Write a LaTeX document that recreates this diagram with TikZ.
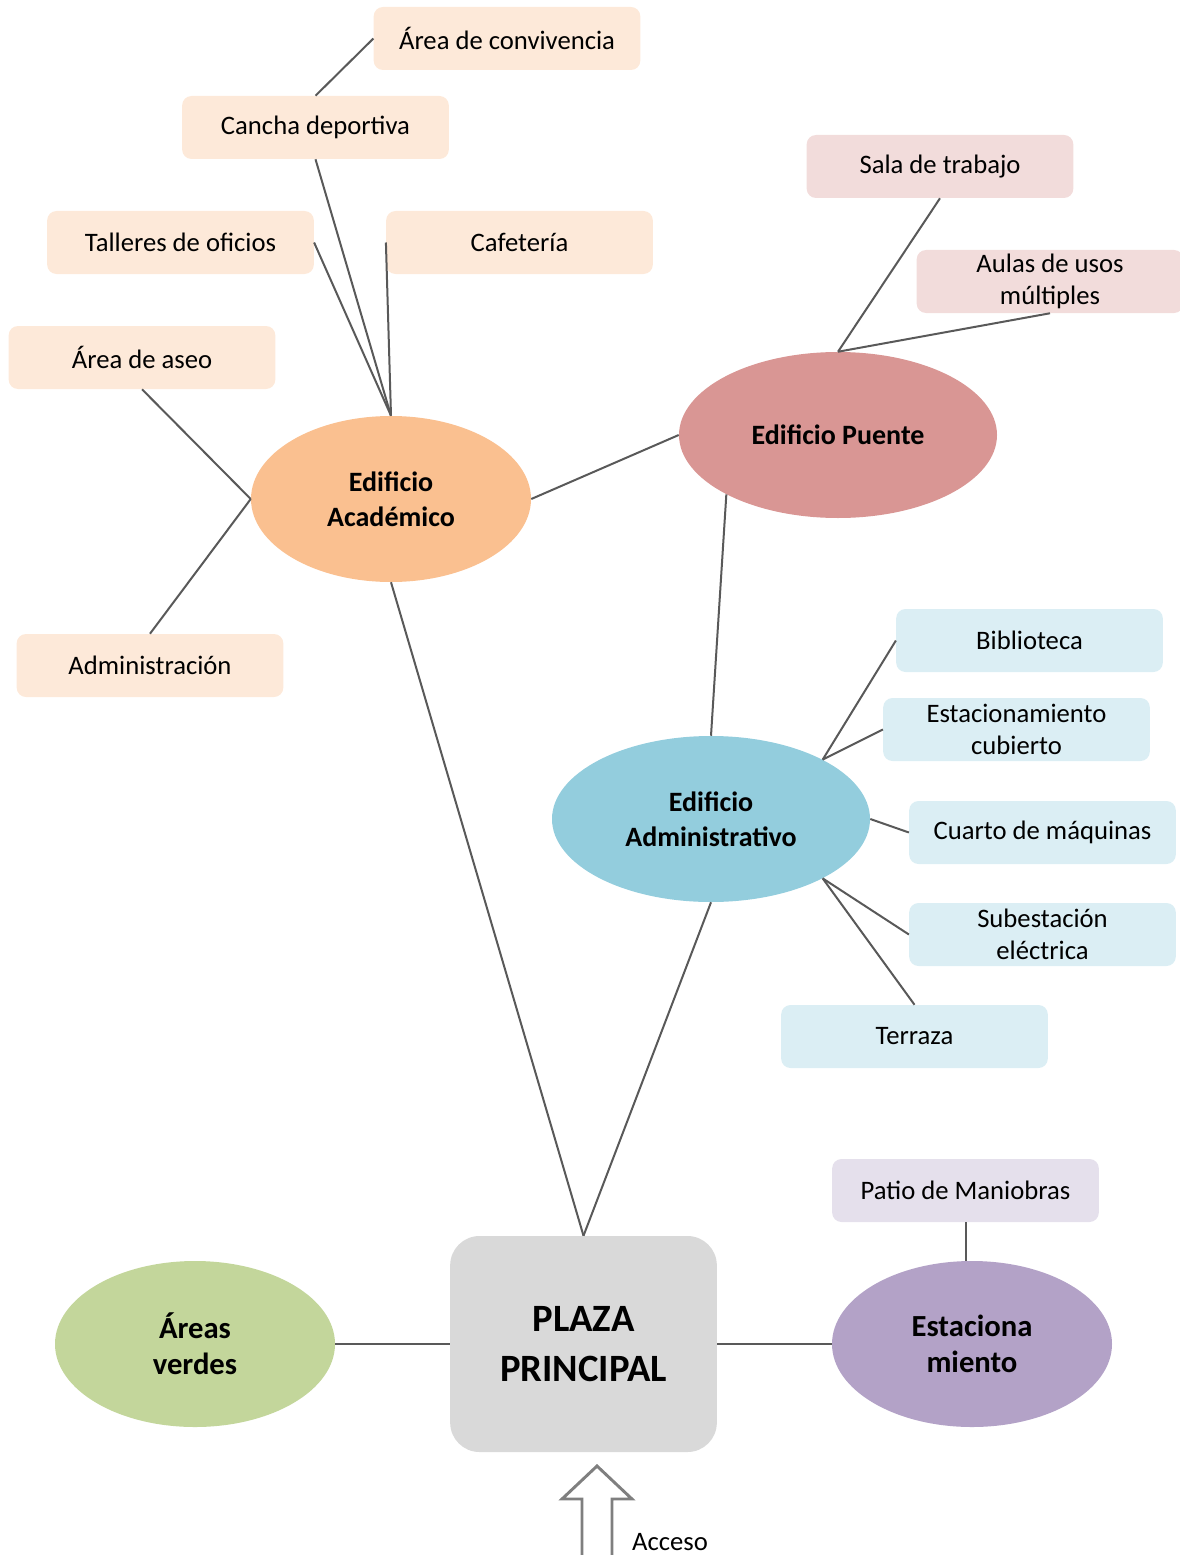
\documentclass[tikz,border=0pt]{standalone}
\usepackage{fontspec}
\setmainfont{Carlito}
\usepackage{tikz}
\usetikzlibrary{shapes.geometric}
\definecolor{peach}{HTML}{FDE9D9}
\definecolor{orangeell}{HTML}{FAC090}
\definecolor{roseell}{HTML}{D99694}
\definecolor{rosebox}{HTML}{F2DCDB}
\definecolor{blueell}{HTML}{93CDDD}
\definecolor{bluebox}{HTML}{DBEEF4}
\definecolor{greenell}{HTML}{C3D69B}
\definecolor{purpleell}{HTML}{B3A2C7}
\definecolor{lilacbox}{HTML}{E5E0EC}
\definecolor{plazagray}{HTML}{D9D9D9}
\definecolor{linegray}{HTML}{595959}
\definecolor{arrowgray}{HTML}{7F7F7F}

\begin{document}
\begin{tikzpicture}[x=0.75pt, y=-0.75pt,
    leaf/.style = {rectangle, rounded corners=7pt, minimum width=200pt, minimum height=47.25pt,
                   inner sep=1pt, align=center, font=\fontsize{20}{24}\selectfont},
    hub/.style  = {ellipse, minimum width=210pt, minimum height=124.5pt, inner sep=0pt,
                   align=center, font=\fontsize{21}{26}\selectfont\bfseries},
    big/.style  = {ellipse, minimum width=210pt, minimum height=124.5pt, inner sep=0pt,
                   align=center, font=\fontsize{23}{27}\selectfont\bfseries},
    link/.style = {draw=linegray, line width=1.5pt}]
    \useasboundingbox (0,0) rectangle (1180,1555);

    \node[leaf, fill=peach] (conv)     at (507,38.5)   {Área de convivencia};
    \node[leaf, fill=peach] (cancha)   at (315.5,127.5) {Cancha deportiva};
    \node[leaf, fill=peach] (talleres) at (180.5,242.5) {Talleres de oficios};
    \node[leaf, fill=peach] (cafe)     at (519.5,242.5) {Cafetería};
    \node[leaf, fill=peach] (aseo)     at (142,357.5)   {Área de aseo};
    \node[leaf, fill=peach] (admin)    at (150,665.5)   {Administración};
    \node[hub, fill=orangeell] (acad)  at (391,499)     {Edificio\\Académico};

    \node[hub, fill=roseell, minimum width=238.5pt] (puente) at (838,435) {Edificio Puente};
    \node[leaf, fill=rosebox] (sala)   at (940,166.5)   {Sala de trabajo};
    \node[leaf, fill=rosebox] (aulas)  at (1050,281.5)  {Aulas de usos\\múltiples};

    \node[hub, fill=blueell, minimum width=238.5pt] (adm) at (711,819) {Edificio\\Administrativo};
    \node[leaf, fill=bluebox] (biblio) at (1029.5,640.5) {Biblioteca};
    \node[leaf, fill=bluebox] (estcub) at (1016.5,729.5) {Estacionamiento\\cubierto};
    \node[leaf, fill=bluebox] (cuarto) at (1042.5,832.5) {Cuarto de máquinas};
    \node[leaf, fill=bluebox] (subest) at (1042.5,934.5) {Subestación\\eléctrica};
    \node[leaf, fill=bluebox] (terraza) at (914.5,1036.5) {Terraza};

    \node[rectangle, rounded corners=22pt, fill=plazagray, minimum width=200pt, minimum height=162pt,
          align=center, font=\fontsize{29}{37.5}\selectfont\bfseries] (plaza) at (583.5,1344) {PLAZA\\PRINCIPAL};
    \node[big, fill=greenell]  (verdes) at (195,1344) {Áreas\\verdes};
    \node[big, fill=purpleell] (estac)  at (972,1344) {Estaciona\\miento};
    \node[leaf, fill=lilacbox] (patio)  at (965.5,1190.5) {Patio de Maniobras};

    \draw[link] (conv.west) -- (cancha.north);
    \draw[link] (cancha.south) -- (acad.north);
    \draw[link] (talleres.east) -- (acad.north);
    \draw[link] (cafe.west) -- (acad.north);
    \draw[link] (aseo.south) -- (acad.west);
    \draw[link] (admin.north) -- (acad.west);
    \draw[link] (acad.east) -- (puente.west);
    \draw[link] (sala.south) -- (puente.north);
    \draw[link] (aulas.south) -- (puente.north);
    \draw[link] (puente.208) -- (adm.north);
    \draw[link] (biblio.west) -- (adm.28);
    \draw[link] (estcub.west) -- (adm.28);
    \draw[link] (cuarto.west) -- (adm.east);
    \draw[link] (subest.west) -- (adm.332);
    \draw[link] (terraza.north) -- (adm.332);
    \draw[link] (acad.south) -- (plaza.north);
    \draw[link] (adm.south) -- (plaza.north);
    \draw[link] (verdes.east) -- (plaza.west);
    \draw[link] (plaza.east) -- (estac.west);
    \draw[link] (patio.south) -- (patio.south |- estac.north);

    \draw[draw=arrowgray, fill=white, line width=2.2pt, line join=miter]
        (597,1466) -- (632,1499) -- (612,1499) -- (612,1565) -- (582,1565) -- (582,1499) -- (562,1499) -- cycle;
    \node[inner sep=0pt, font=\fontsize{20}{24}\selectfont] (acceso) at (670,1542) {Acceso};
\end{tikzpicture}
\end{document}
